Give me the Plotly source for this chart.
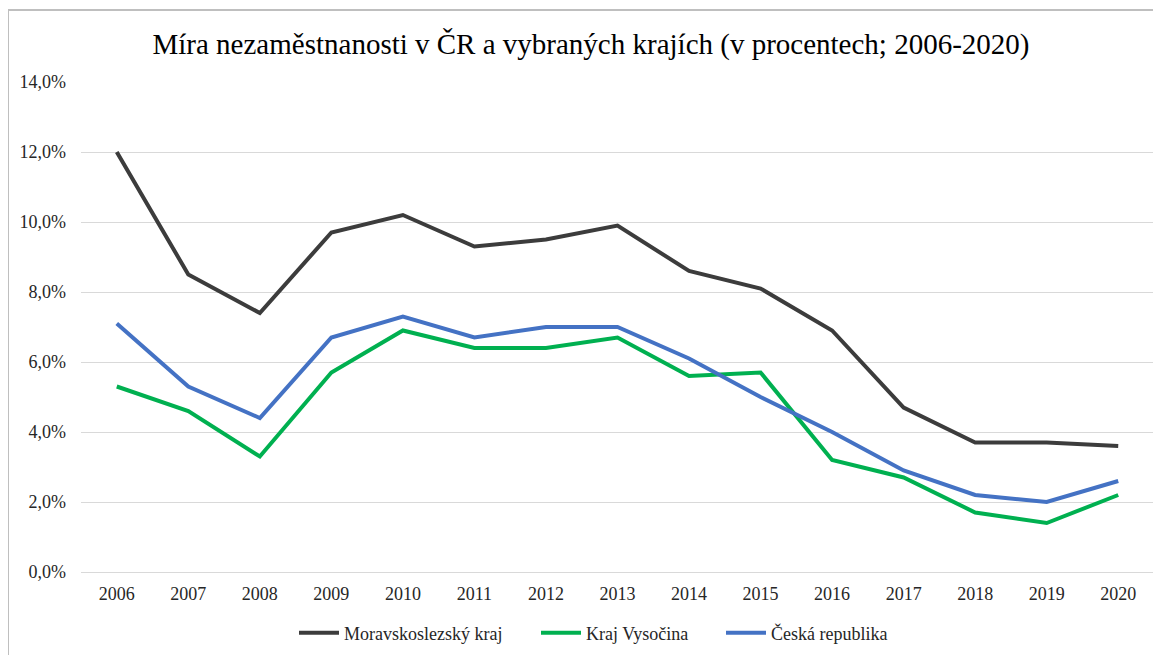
import plotly.graph_objects as go

years = [str(y) for y in range(2006, 2021)]
moravskoslezsky = [12.0, 8.5, 7.4, 9.7, 10.2, 9.3, 9.5, 9.9, 8.6, 8.1, 6.9, 4.7, 3.7, 3.7, 3.6]
vysocina = [5.3, 4.6, 3.3, 5.7, 6.9, 6.4, 6.4, 6.7, 5.6, 5.7, 3.2, 2.7, 1.7, 1.4, 2.2]
cr = [7.1, 5.3, 4.4, 6.7, 7.3, 6.7, 7.0, 7.0, 6.1, 5.0, 4.0, 2.9, 2.2, 2.0, 2.6]
y_ticks = [0, 2, 4, 6, 8, 10, 12, 14]
y_ticktext = [f"{v:.1f}".replace(".", ",") + "%" for v in y_ticks]

W, H = 1161, 655
# the page body adds an 8px offset, so figure coords = screen coords - 8
L, R, T, B = 73, 1146, 74, 564  # plot area in figure px

def px_x(p):
    return (p - L) / (R - L)

def px_y(p):
    return (B - p) / (B - T)

FONT = "Liberation Serif, Times New Roman, DejaVu Serif, serif"

fig = go.Figure()
series = [
    ("Moravskoslezský kraj", moravskoslezsky, "#3c3c3c", "legend", 286),
    ("Kraj Vysočina", vysocina, "#00b050", "legend2", 528),
    ("Česká republika", cr, "#4472c4", "legend3", 713),
]
for name, vals, col, lg, _ in series:
    fig.add_trace(go.Scatter(
        x=years, y=vals, mode="lines", name=name,
        line=dict(color=col, width=4), legend=lg, showlegend=True,
    ))

legend_common = dict(
    orientation="h", yanchor="middle", xanchor="left",
    font=dict(family=FONT, size=18, color="#262626"),
    bgcolor="rgba(0,0,0,0)", itemwidth=40, tracegroupgap=0,
    xref="paper", yref="paper", visible=True,
)
layout_legends = {}
for name, vals, col, lg, xpos in series:
    layout_legends[lg] = dict(legend_common, x=px_x(xpos), y=px_y(625))

fig.update_layout(
    width=W, height=H,
    showlegend=True,
    margin=dict(l=L, r=W - R, t=T, b=H - B),
    paper_bgcolor="white", plot_bgcolor="white",
    title=dict(
        text="Míra nezaměstnanosti v ČR a vybraných krajích (v procentech; 2006-2020)",
        font=dict(family=FONT, size=29, color="#000000"),
        x=583 / W, xanchor="center", y=1 - 36 / H, yanchor="middle",
    ),
    xaxis=dict(
        type="category", range=[-0.5, 14.5], showgrid=False,
        showline=False, zeroline=False, ticks="",
        tickfont=dict(family=FONT, size=18, color="#262626"),
        ticklabelstandoff=9,
    ),
    yaxis=dict(
        range=[0, 14], tickmode="array", tickvals=y_ticks, ticktext=y_ticktext,
        showgrid=True, gridcolor="#d9d9d9", gridwidth=1.2,
        zeroline=True, zerolinecolor="#d9d9d9", zerolinewidth=1.2,
        showline=False, ticks="",
        tickfont=dict(family=FONT, size=18, color="#262626"),
        ticklabelstandoff=14,
    ),
    shapes=[dict(
        type="rect", xref="paper", yref="paper",
        x0=px_x(0), x1=px_x(1175), y0=px_y(680), y1=px_y(2),
        line=dict(color="#bfbfbf", width=2), fillcolor="rgba(0,0,0,0)",
        layer="below",
    )],
    **layout_legends,
)

fig.write_html("out.html")
